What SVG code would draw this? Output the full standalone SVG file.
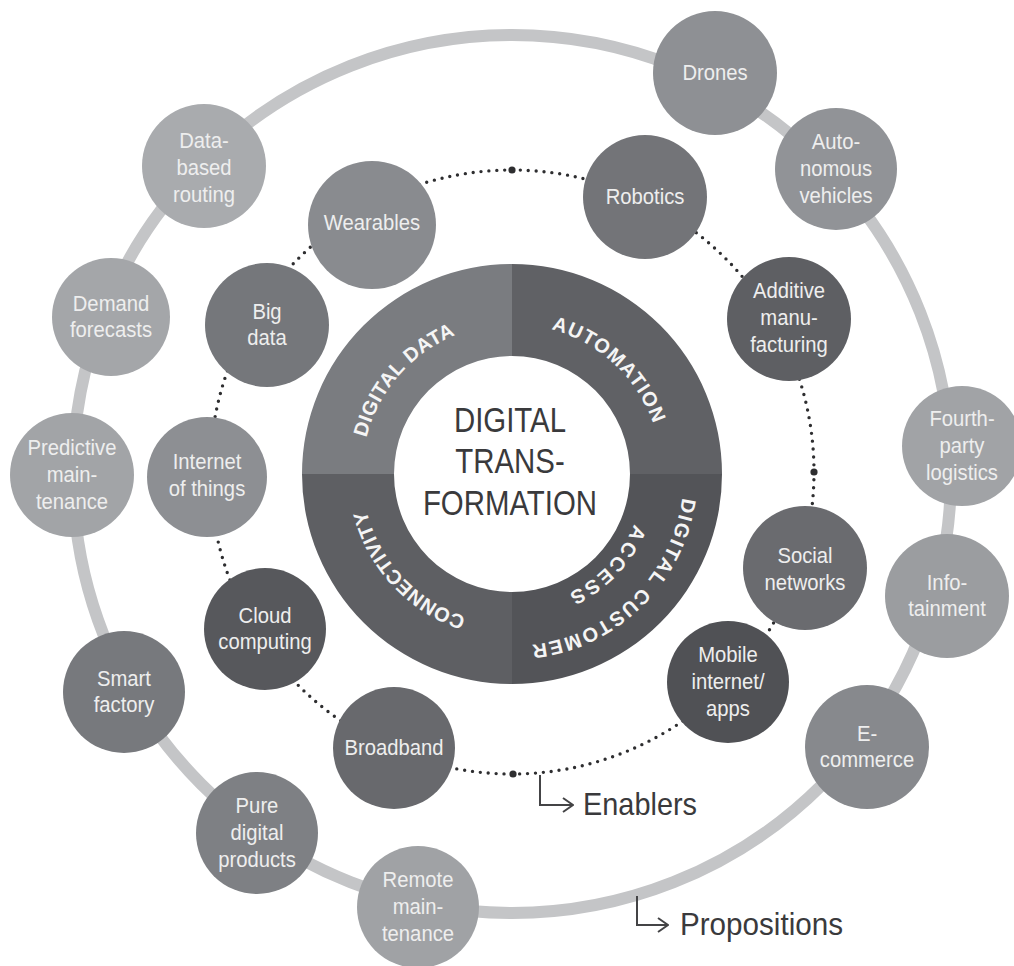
<svg xmlns="http://www.w3.org/2000/svg" width="1014" height="966" viewBox="0 0 1014 966">
<style>
.bg{fill:#ffffff}
.node text{font-family:"Liberation Sans",Arial,sans-serif;font-size:22.5px;fill:#eeeeee;text-anchor:middle}
.ring text{font-family:"Liberation Sans",Arial,sans-serif;font-weight:bold;font-size:20px;fill:#f5f5f5}
.center{font-family:"Liberation Sans",Arial,sans-serif;font-size:35px;fill:#3a3a3c;text-anchor:middle}
.label{font-family:"Liberation Sans",Arial,sans-serif;font-size:32px;fill:#3a3a3c}
.hook{fill:none;stroke:#444446;stroke-width:2}
</style>
<defs>
<marker id="arr" viewBox="0 0 12 16" refX="11" refY="8" markerWidth="12" markerHeight="16" markerUnits="userSpaceOnUse" orient="auto">
<path d="M1,1 L11,8 L1,15" fill="none" stroke="#444446" stroke-width="2"/>
</marker>
<path id="pDD" d="M370.2,522.8 A150,150 0 0,1 540.6,326.8"/>
<path id="pAU" d="M468.1,330.6 A150,150 0 0,1 658.2,507.7"/>
<path id="pCO" d="M545.7,620.2 A150,150 0 0,1 368.6,430.1"/>
<path id="pDC" d="M669.1,404 A172,172 0 0,1 436.6,628.6"/>
<path id="pAC" d="M638.9,437.6 A132,132 0 0,1 480.1,602.1"/>
</defs>
<rect class="bg" x="0" y="0" width="1014" height="966"/>

<g id="connectors">
<circle id="propositions-ring" cx="512" cy="474" r="439" fill="none" stroke="#c4c5c7" stroke-width="12"/>
<circle id="enablers-ring" cx="512" cy="472" r="302" fill="none" stroke="#2e2e30" stroke-width="3.4" stroke-linecap="round" stroke-dasharray="0 7.906"/>
<circle cx="512" cy="170" r="3.6" fill="#2e2e30"/>
<circle cx="513" cy="774" r="3.6" fill="#2e2e30"/>
<circle cx="814" cy="472" r="3.6" fill="#2e2e30"/>
<circle cx="210" cy="472" r="3.6" fill="#2e2e30"/>
<path class="hook" d="M540,775 V805 H573" marker-end="url(#arr)"/>
<path class="hook" d="M637,896 V925 H668" marker-end="url(#arr)"/>
</g>

<g id="labels">
<text class="label" x="583" y="815" textLength="114" lengthAdjust="spacingAndGlyphs">Enablers</text>
<text class="label" x="680" y="935" textLength="163" lengthAdjust="spacingAndGlyphs">Propositions</text>
</g>

<g id="core" class="ring">
<path d="M302,474 A210,210 0 0,1 512,264 L512,356 A118,118 0 0,0 394,474 Z" fill="#7a7c80"/>
<path d="M512,264 A210,210 0 0,1 722,474 L630,474 A118,118 0 0,0 512,356 Z" fill="#606165"/>
<path d="M722,474 A210,210 0 0,1 512,684 L512,592 A118,118 0 0,0 630,474 Z" fill="#535458"/>
<path d="M512,684 A210,210 0 0,1 302,474 L394,474 A118,118 0 0,0 512,592 Z" fill="#5e5f63"/>
<text letter-spacing="0.4"><textPath href="#pDD" startOffset="50%" text-anchor="middle">DIGITAL DATA</textPath></text>
<text letter-spacing="1.2"><textPath href="#pAU" startOffset="50%" text-anchor="middle">AUTOMATION</textPath></text>
<text letter-spacing="0.3"><textPath href="#pCO" startOffset="50%" text-anchor="middle">CONNECTIVITY</textPath></text>
<text letter-spacing="1.9"><textPath href="#pDC" startOffset="50%" text-anchor="middle">DIGITAL CUSTOMER</textPath></text>
<text letter-spacing="2.8"><textPath href="#pAC" startOffset="50%" text-anchor="middle">ACCESS</textPath></text>
</g>

<g id="center-title" transform="translate(510,0) scale(0.84,1)">
<text class="center" x="0" y="432">DIGITAL</text>
<text class="center" x="0" y="473">TRANS-</text>
<text class="center" x="0" y="515">FORMATION</text>
</g>

<g id="drones" class="node" transform="translate(715,73)"><circle r="62" fill="#8e9094"/><text transform="scale(0.9,1)"><tspan x="0" y="7">Drones</tspan></text></g>
<g id="autonomous-vehicles" class="node" transform="translate(836,169)"><circle r="61" fill="#919397"/><text transform="scale(0.9,1)"><tspan x="0" y="-20">Auto-</tspan><tspan x="0" y="7">nomous</tspan><tspan x="0" y="34">vehicles</tspan></text></g>
<g id="fourth-party-logistics" class="node" transform="translate(962,446)"><circle r="60" fill="#a1a3a6"/><text transform="scale(0.9,1)"><tspan x="0" y="-20">Fourth-</tspan><tspan x="0" y="7">party</tspan><tspan x="0" y="34">logistics</tspan></text></g>
<g id="infotainment" class="node" transform="translate(947,596)"><circle r="62" fill="#9b9da0"/><text transform="scale(0.9,1)"><tspan x="0" y="-6.5">Info-</tspan><tspan x="0" y="20.5">tainment</tspan></text></g>
<g id="e-commerce" class="node" transform="translate(867,747)"><circle r="62" fill="#87898d"/><text transform="scale(0.9,1)"><tspan x="0" y="-6.5">E-</tspan><tspan x="0" y="20.5">commerce</tspan></text></g>
<g id="remote-maintenance" class="node" transform="translate(418,907)"><circle r="61" fill="#a0a2a5"/><text transform="scale(0.9,1)"><tspan x="0" y="-20">Remote</tspan><tspan x="0" y="7">main-</tspan><tspan x="0" y="34">tenance</tspan></text></g>
<g id="pure-digital-products" class="node" transform="translate(257,833)"><circle r="61" fill="#7e8084"/><text transform="scale(0.9,1)"><tspan x="0" y="-20">Pure</tspan><tspan x="0" y="7">digital</tspan><tspan x="0" y="34">products</tspan></text></g>
<g id="smart-factory" class="node" transform="translate(124,692)"><circle r="61" fill="#77797d"/><text transform="scale(0.9,1)"><tspan x="0" y="-6.5">Smart</tspan><tspan x="0" y="20.5">factory</tspan></text></g>
<g id="predictive-maintenance" class="node" transform="translate(72,475)"><circle r="62" fill="#a2a4a7"/><text transform="scale(0.9,1)"><tspan x="0" y="-20">Predictive</tspan><tspan x="0" y="7">main-</tspan><tspan x="0" y="34">tenance</tspan></text></g>
<g id="demand-forecasts" class="node" transform="translate(111,317)"><circle r="59" fill="#a4a6a9"/><text transform="scale(0.9,1)"><tspan x="0" y="-6.5">Demand</tspan><tspan x="0" y="20.5">forecasts</tspan></text></g>
<g id="data-based-routing" class="node" transform="translate(204,166)"><circle r="62" fill="#a9abae"/><text transform="scale(0.9,1)"><tspan x="0" y="-18">Data-</tspan><tspan x="0" y="9">based</tspan><tspan x="0" y="36">routing</tspan></text></g>

<g id="wearables" class="node" transform="translate(372,225)"><circle r="64" fill="#898b8f"/><text transform="scale(0.9,1)"><tspan x="0" y="5">Wearables</tspan></text></g>
<g id="robotics" class="node" transform="translate(645,197)"><circle r="62" fill="#737478"/><text transform="scale(0.9,1)"><tspan x="0" y="7">Robotics</tspan></text></g>
<g id="additive-manufacturing" class="node" transform="translate(789,319)"><circle r="62" fill="#5e5f63"/><text transform="scale(0.9,1)"><tspan x="0" y="-21">Additive</tspan><tspan x="0" y="6">manu-</tspan><tspan x="0" y="33">facturing</tspan></text></g>
<g id="social-networks" class="node" transform="translate(805,568)"><circle r="62" fill="#6a6b6f"/><text transform="scale(0.9,1)"><tspan x="0" y="-5">Social</tspan><tspan x="0" y="22">networks</tspan></text></g>
<g id="mobile-internet-apps" class="node" transform="translate(728,682)"><circle r="61" fill="#505155"/><text transform="scale(0.9,1)"><tspan x="0" y="-20">Mobile</tspan><tspan x="0" y="7">internet/</tspan><tspan x="0" y="34">apps</tspan></text></g>
<g id="broadband" class="node" transform="translate(394,748)"><circle r="61" fill="#68696d"/><text transform="scale(0.9,1)"><tspan x="0" y="7">Broadband</tspan></text></g>
<g id="cloud-computing" class="node" transform="translate(265,629)"><circle r="61" fill="#57585c"/><text transform="scale(0.9,1)"><tspan x="0" y="-6.5">Cloud</tspan><tspan x="0" y="20.5">computing</tspan></text></g>
<g id="internet-of-things" class="node" transform="translate(207,477)"><circle r="60" fill="#8d8f93"/><text transform="scale(0.9,1)"><tspan x="0" y="-8">Internet</tspan><tspan x="0" y="19">of things</tspan></text></g>
<g id="big-data" class="node" transform="translate(267,325)"><circle r="62" fill="#75777b"/><text transform="scale(0.9,1)"><tspan x="0" y="-6.5">Big</tspan><tspan x="0" y="20.5">data</tspan></text></g>
</svg>
